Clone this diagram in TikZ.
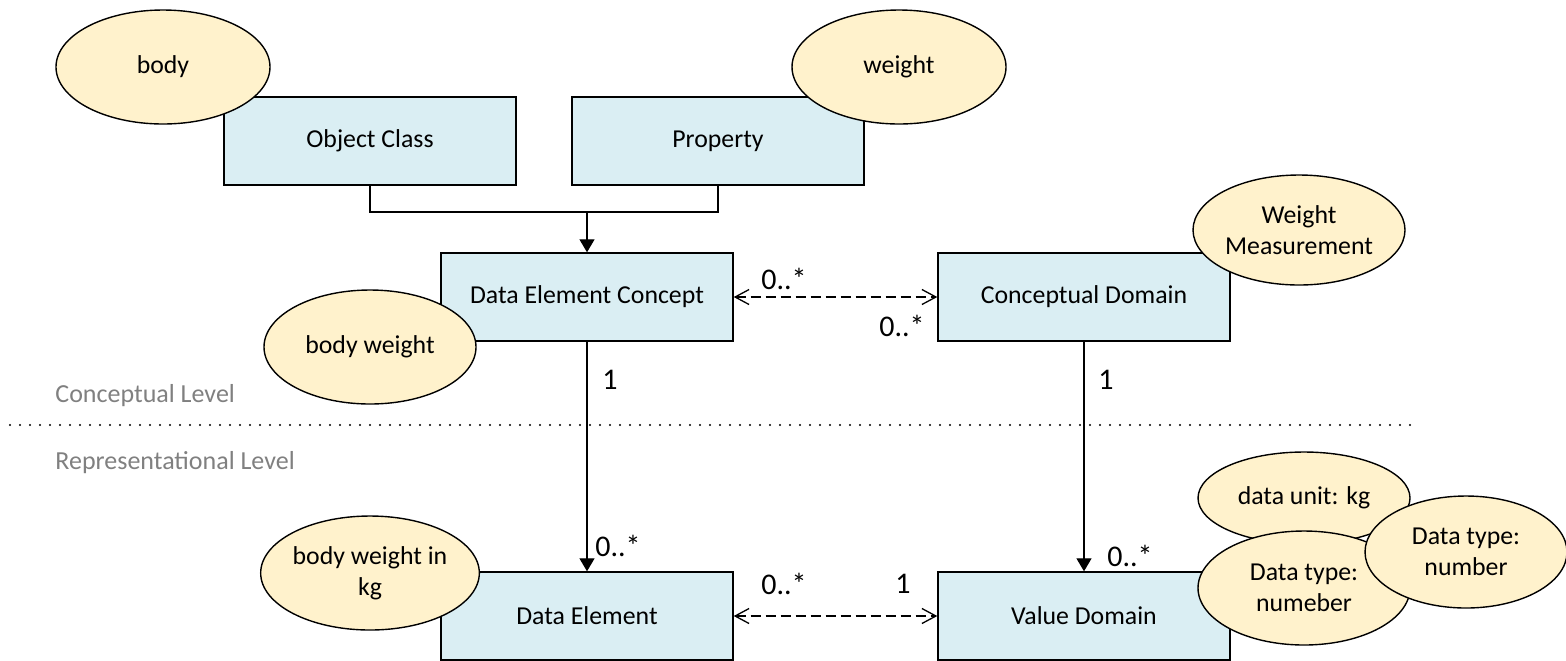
\documentclass[tikz,border=0pt]{standalone}
\usepackage{fontspec}
\setmainfont{Carlito}
\usetikzlibrary{arrows.meta,shapes.geometric,calc}
\definecolor{boxfill}{HTML}{DAEEF3}
\definecolor{ellfill}{HTML}{FFF2CC}
\definecolor{lvlgray}{HTML}{808080}
\begin{document}
\begin{tikzpicture}[x=0.5pt,y=-0.5pt,
  box/.style={draw=black, line width=0.7pt, fill=boxfill, inner sep=0pt, align=center,
    font=\fontsize{12.9}{15}\selectfont, minimum width=146pt, minimum height=44pt},
  ell/.style={draw=black, line width=0.7pt, fill=ellfill, ellipse, inner sep=0pt, align=center,
    font=\fontsize{12.9}{15.5}\selectfont},
  lbl/.style={font=\fontsize{15}{18}\selectfont, inner sep=0pt},
  lvl/.style={text=lvlgray, font=\fontsize{13}{15}\selectfont, anchor=west, inner sep=0pt},
  conn/.style={line width=0.65pt, -{Triangle[length=6.5pt,width=7.5pt]}},
  elbow/.style={line width=0.65pt},
  assoc/.style={line width=0.65pt, dash pattern=on 5pt off 2.5pt,
    {Straight Barb[length=7pt,width=7.5pt]}-{Straight Barb[length=7pt,width=7.5pt]}},
  dotline/.style={line width=1.1pt, dash pattern=on 0pt off 5pt, line cap=round}]
\useasboundingbox (0,0) rectangle (1566,660);

% boxes
\node[box] (OC) at (370,141) {Object Class};
\node[box] (Prop) at (718,141) {Property};
\node[box] (DEC) at (587,297) {Data Element Concept};
\node[box] (CD) at (1084,297) {Conceptual Domain};
\node[box] (DE) at (587,616) {Data Element};
\node[box] (VD) at (1084,616) {Value Domain};

% ellipses
\node[ell, minimum width=107pt, minimum height=57pt] (body) at (163,67) {body};
\node[ell, minimum width=107pt, minimum height=57pt] (weight) at (899,67) {weight};
\node[ell, minimum width=106pt, minimum height=55pt] (wm) at (1299,230) {Weight\\Measurement};
\node[ell, minimum width=106pt, minimum height=57pt] (bw) at (370,347) {body weight};
\node[ell, minimum width=106pt, minimum height=57pt] (bwkg) at (370,573) {body weight in\\kg};
\node[ell, minimum width=106pt, minimum height=46pt] (unit) at (1304,498) {data unit: kg};
\node[ell, minimum width=106pt, minimum height=57pt] (dt1) at (1304,588) {Data type:\\numeber};
\node[ell, minimum width=101pt, minimum height=56pt] (dt2) at (1466,552) {Data type:\\number};

% level separator
\coordinate (sepL) at (10,425);
\coordinate (sepR) at (1415,425);
\draw[dotline] (sepL) -- (sepR);
\node[lvl] (cl) at (55,396) {Conceptual Level};
\node[lvl] (rl) at (55,463) {Representational Level};

% connectors
\coordinate (j) at (587,212);
\draw[elbow] (OC.south) |- (Prop.south |- j) -- (Prop.south);
\draw[conn] (j) -- (DEC.north);
\draw[assoc] (DEC.east) -- (CD.west);
\draw[conn] (DEC.south) -- (DE.north);
\draw[conn] (CD.south) -- (VD.north);
\draw[assoc] (DE.east) -- (VD.west);

% multiplicities
\node[lbl] (m1) at (784,279) {0..*};
\node[lbl] (m2) at (902,326) {0..*};
\node[lbl] (m3) at (610,380) {1};
\node[lbl] (m4) at (618,546) {0..*};
\node[lbl] (m5) at (1106,380) {1};
\node[lbl] (m6) at (1130,556) {0..*};
\node[lbl] (m7) at (784,584) {0..*};
\node[lbl] (m8) at (903,584) {1};
\end{tikzpicture}
\end{document}
